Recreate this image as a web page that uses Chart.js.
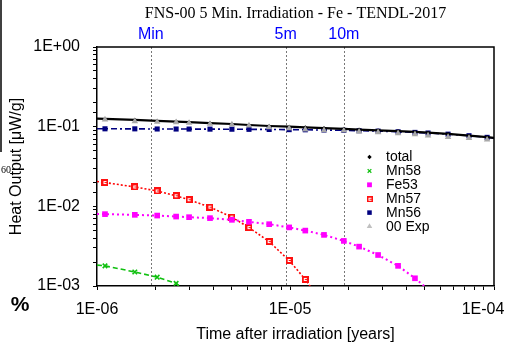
<!DOCTYPE html>
<html>
<head>
<meta charset="utf-8">
<script src="https://cdn.jsdelivr.net/npm/chart.js@4.4.1/dist/chart.umd.min.js"></script>
<style>
  html, body { margin: 0; padding: 0; background: #fff; }
  #wrap { width: 507px; height: 343px; }
</style>
</head>
<body>
<div id="wrap"><canvas id="c" width="507" height="343"></canvas></div>
<script>
// ---------- data ----------
const chartTitle = 'FNS-00 5 Min. Irradiation - Fe - TENDL-2017';
const xAxisTitle = 'Time after irradiation [years]';
const yAxisTitle = 'Heat Output [\u03bcW/g]';

const times = [1.0e-6, 1.10e-6, 1.57e-6, 2.05e-6, 2.57e-6, 3.0e-6, 3.85e-6, 5.0e-6, 6.13e-6, 7.8e-6,
               9.9e-6, 1.2e-5, 1.5e-5, 1.9e-5, 2.28e-5, 2.86e-5, 3.63e-5, 4.44e-5, 5.19e-5, 6.59e-5,
               8.46e-5, 1.05e-4, 1.14e-4];

const totalValues = [0.126, 0.125, 0.122, 0.118, 0.116, 0.114, 0.111, 0.108, 0.105, 0.102,
                     0.100, 0.098, 0.096, 0.094, 0.092, 0.090, 0.088, 0.086, 0.084, 0.081,
                     0.077, 0.074, 0.0725];
const mn58Values  = [0.00183, 0.00179, 0.00150, 0.00129, 0.00108, 0.00080, null, null, null, null,
                     null, null, null, null, null, null, null, null, null, null,
                     null, null, null];
const fe53Values  = [0.0080, 0.00798, 0.00782, 0.00766, 0.00744, 0.00731, 0.00711, 0.00677, 0.00639, 0.00597,
                     0.00544, 0.00496, 0.00438, 0.00368, 0.00312, 0.00245, 0.00179, 0.00125, 0.00091, null,
                     null, null, null];
const mn57Values  = [0.0205, 0.0199, 0.0175, 0.0156, 0.01356, 0.0121, 0.00977, 0.00731, 0.00541, 0.00361,
                     0.00209, 0.00121, 0.00056, null, null, null, null, null, null, null,
                     null, null, null];
const mn56Values  = [0.0941, 0.0940, 0.0939, 0.0935, 0.0934, 0.0933, 0.0931, 0.0929, 0.0926, 0.0923,
                     0.0918, 0.0914, 0.0907, 0.0899, 0.0890, 0.0879, 0.0863, 0.0847, 0.0832, 0.0805,
                     0.0770, 0.0734, 0.0719];
const expValues   = [null, 0.1225, 0.1166, 0.1146, 0.1133, 0.1113, 0.1082, 0.106, 0.1030, 0.098,
                     0.0952, 0.0917, 0.0898, 0.0890, 0.0865, 0.0848, 0.0823, 0.0800, 0.0771, 0.0742,
                     0.0721, 0.0686, null];

const seriesLabels = ['total', 'Mn58', 'Fe53', 'Mn57', 'Mn56', '00 Exp'];

const markerTimes  = [1.9e-6, 9.5e-6, 1.9e-5];
const markerLabels = ['Min', '5m', '10m'];

const xTickValues = [1e-6, 1e-5, 1e-4];
const xTickLabels = ['1E-06', '1E-05', '1E-04'];
const yTickValues = [1e-3, 1e-2, 1e-1, 1];
const yTickLabels = ['1E-03', '1E-02', '1E-01', '1E+00'];

// ---------- helpers ----------
function toPoints(vals) {
  return times.map((t, i) => ({ x: t, y: vals[i] }));
}
function tickLabel(values, labels, v) {
  for (let i = 0; i < values.length; i++) {
    if (Math.abs(Math.log10(v) - Math.log10(values[i])) < 1e-6) return labels[i];
  }
  return '';
}
function makeMn57Marker(size) {
  const cv = document.createElement('canvas');
  cv.width = size; cv.height = size;
  const g = cv.getContext('2d');
  g.fillStyle = '#ff1010';
  g.fillRect(0, 0, size, size);
  g.fillStyle = '#ffffff';
  const o = Math.floor(size / 2) - 1;
  g.fillRect(o, o, 3, 1);
  g.fillRect(o, o, 1, 3);
  g.fillRect(o, o + 2, 3, 1);
  return cv;
}
const mn57Marker = makeMn57Marker(7);
const mn57LegendMarker = makeMn57Marker(6);

const lastIdx = times.length - 1;
const edgeRadius = r => ctx => (ctx.dataIndex === 0 || ctx.dataIndex === lastIdx) ? 0 : r;

const SANS = "'Liberation Sans', Arial, Helvetica, sans-serif";
const SERIF = "'Liberation Serif', 'Times New Roman', serif";

// ---------- plugins ----------
const decorPlugin = {
  id: 'decor',
  beforeDatasetsDraw(chart) {
    const { ctx, chartArea: a, scales: { x } } = chart;
    ctx.save();
    ctx.strokeStyle = '#777777';
    ctx.lineWidth = 1;
    ctx.setLineDash([2, 2]);
    markerTimes.forEach(t => {
      const px = Math.round(x.getPixelForValue(t)) + 0.5;
      ctx.beginPath();
      ctx.moveTo(px, a.top);
      ctx.lineTo(px, a.bottom);
      ctx.stroke();
    });
    ctx.restore();
  },
  afterDraw(chart) {
    const { ctx, chartArea: a, scales: { x } } = chart;
    ctx.save();
    // frame (top and right)
    ctx.strokeStyle = '#000';
    ctx.lineWidth = 1.5;
    ctx.beginPath();
    ctx.moveTo(a.left, a.top);
    ctx.lineTo(a.right, a.top);
    ctx.lineTo(a.right, a.bottom);
    ctx.stroke();

    // marker labels above the plot
    ctx.fillStyle = '#0000ff';
    ctx.font = '16px ' + SANS;
    ctx.textAlign = 'center';
    ctx.textBaseline = 'middle';
    markerTimes.forEach((t, i) => {
      ctx.fillText(markerLabels[i], x.getPixelForValue(t), 35);
    });

    // legend inside the plot
    const lx = 369.5, tx = 386, ly0 = 157, dy = 13.9;
    ctx.font = '14px ' + SANS;
    ctx.textAlign = 'left';
    ctx.textBaseline = 'middle';
    chart.data.datasets.forEach((ds, i) => {
      const y = ly0 + i * dy;
      ctx.save();
      ctx.fillStyle = ds.legendFill;
      ctx.strokeStyle = ds.legendFill;
      ctx.lineWidth = 1.2;
      ctx.setLineDash([]);
      Chart.helpers.drawPoint(ctx, {
        pointStyle: ds.legendStyle, radius: ds.legendRadius, rotation: 0, borderWidth: ds.legendBorder
      }, lx, y);
      ctx.restore();
      ctx.fillStyle = '#000';
      ctx.fillText(ds.label, tx, y + 0.5);
    });

    // fragments of a neighbouring figure at the left edge
    ctx.strokeStyle = '#000';
    ctx.lineWidth = 1.5;
    ctx.beginPath();
    ctx.moveTo(1, 0);
    ctx.lineTo(1, 152);
    ctx.stroke();
    ctx.fillStyle = '#000';
    ctx.font = '10px ' + SERIF;
    ctx.textAlign = 'right';
    ctx.fillText('60', 11, 170);
    ctx.font = 'bold 21px ' + SANS;
    ctx.textAlign = 'center';
    ctx.fillText('%', 20, 305);
    ctx.restore();
  }
};

// ---------- chart ----------
new Chart(document.getElementById('c'), {
  type: 'line',
  data: {
    datasets: [
      {
        label: seriesLabels[0], data: toPoints(totalValues),
        borderColor: '#000000', backgroundColor: '#000000', borderWidth: 2.2,
        pointStyle: 'rectRot', pointRadius: edgeRadius(2), pointBorderWidth: 0,
        order: 1,
        legendStyle: 'rectRot', legendRadius: 2.2, legendFill: '#000000', legendBorder: 0
      },
      {
        label: seriesLabels[1], data: toPoints(mn58Values),
        borderColor: '#10c010', backgroundColor: '#10c010', borderWidth: 1.6, borderDash: [5, 3],
        pointStyle: 'crossRot', pointRadius: edgeRadius(3.2), pointBorderWidth: 1.6,
        order: 2,
        legendStyle: 'crossRot', legendRadius: 2.6, legendFill: '#10c010', legendBorder: 1.5
      },
      {
        label: seriesLabels[2], data: toPoints(fe53Values),
        borderColor: '#ff00ff', backgroundColor: '#ff00ff', borderWidth: 2, borderDash: [2, 3],
        pointStyle: 'rect', pointRadius: edgeRadius(4), pointBorderWidth: 0,
        order: 2,
        legendStyle: 'rect', legendRadius: 3.4, legendFill: '#ff00ff', legendBorder: 0
      },
      {
        label: seriesLabels[3], data: toPoints(mn57Values),
        borderColor: '#ff0000', backgroundColor: '#ff0000', borderWidth: 1.6, borderDash: [2, 2],
        pointStyle: mn57Marker, pointRadius: edgeRadius(4), pointBorderWidth: 0,
        order: 2,
        legendStyle: mn57LegendMarker, legendRadius: 3, legendFill: '#ff0000', legendBorder: 0
      },
      {
        label: seriesLabels[4], data: toPoints(mn56Values),
        borderColor: '#000080', backgroundColor: '#000080', borderWidth: 1.6, borderDash: [6, 3, 2, 3],
        pointStyle: 'rect', pointRadius: edgeRadius(3.6), pointBorderWidth: 0,
        order: 2,
        legendStyle: 'rect', legendRadius: 3.2, legendFill: '#000080', legendBorder: 0
      },
      {
        label: seriesLabels[5], data: toPoints(expValues),
        borderColor: '#a8a8a8', backgroundColor: '#a8a8a8', showLine: false,
        pointStyle: 'triangle', pointRadius: 3.8, pointBorderWidth: 0,
        order: 0,
        legendStyle: 'triangle', legendRadius: 3.2, legendFill: '#c0c0c0', legendBorder: 0
      }
    ]
  },
  options: {
    responsive: false,
    animation: false,
    spanGaps: false,
    layout: { padding: { left: 0, right: 13, top: 0, bottom: 0 } },
    plugins: {
      legend: { display: false },
      tooltip: { enabled: false },
      title: {
        display: true, text: chartTitle, fullSize: false, color: '#000',
        font: { family: SERIF, size: 16, weight: 'normal' },
        padding: { top: 4.5, bottom: 23.3 }
      }
    },
    scales: {
      x: {
        type: 'logarithmic', position: 'bottom',
        min: 1e-6, max: 1.14e-4,
        afterFit: s => { s.height = 57; },
        border: { display: true, color: '#000', width: 1.5 },
        grid: { display: true, drawOnChartArea: false, drawTicks: true, tickLength: 4, color: '#000', tickWidth: 1 },
        ticks: {
          autoSkip: false, maxRotation: 0, minRotation: 0, padding: 9.5,
          color: '#000', font: { family: SANS, size: 16 },
          callback: v => tickLabel(xTickValues, xTickLabels, v)
        },
        title: {
          display: true, text: xAxisTitle, color: '#000',
          font: { family: SANS, size: 16 }, padding: { top: 0, bottom: -1 }
        }
      },
      y: {
        type: 'logarithmic', position: 'left',
        min: 1e-3, max: 1,
        afterFit: s => { s.width = 97; },
        border: { display: true, color: '#000', width: 1.5 },
        grid: { display: true, drawOnChartArea: false, drawTicks: true, tickLength: 4, color: '#000', tickWidth: 1 },
        ticks: {
          autoSkip: false, padding: 13,
          color: '#000', font: { family: SANS, size: 16 },
          callback: v => tickLabel(yTickValues, yTickLabels, v)
        },
        title: {
          display: true, text: yAxisTitle, color: '#000',
          font: { family: SANS, size: 16 }, padding: { top: 7, bottom: 0 }
        }
      }
    }
  },
  plugins: [decorPlugin]
});
</script>
</body>
</html>
